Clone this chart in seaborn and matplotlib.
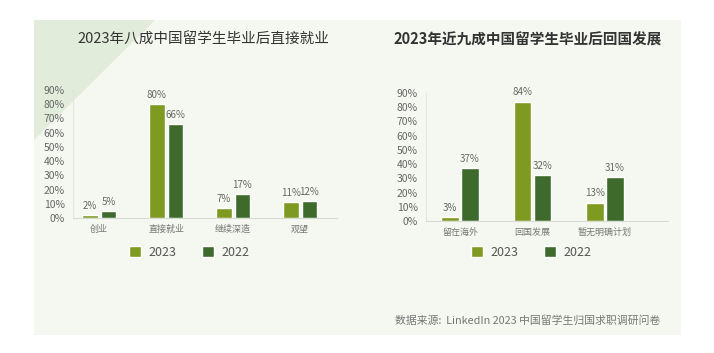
import numpy as np
import pandas as pd
import seaborn as sns
import matplotlib.pyplot as plt
from matplotlib.patches import Rectangle, Polygon

# data
years = ["2023", "2022"]
left_cats = ["创业", "直接就业", "继续深造", "观望"]
left_2023 = [0.02, 0.80, 0.07, 0.11]
left_2022 = [0.05, 0.66, 0.17, 0.12]
right_cats = ["留在海外", "回国发展", "暂无明确计划"]
right_2023 = [0.03, 0.84, 0.13]
right_2022 = [0.37, 0.32, 0.31]
yticks = [0, 0.1, 0.2, 0.3, 0.4, 0.5, 0.6, 0.7, 0.8, 0.9]
ytick_labels = ["0%", "10%", "20%", "30%", "40%", "50%", "60%", "70%", "80%", "90%"]

sns.set_style("white")
plt.rcParams["font.family"] = ["Noto Sans CJK SC", "DejaVu Sans"]

palette = {"2023": "#7e9a20", "2022": "#3e6b2c"}
W, H = 714, 353

fig = plt.figure(figsize=(7.14, 3.53), dpi=100)
fig.patch.set_facecolor("white")


def fx(x):
    return x / W


def fy(y):
    return 1 - y / H


# background panel and corner triangle (below the axes)
fig.patches.append(Rectangle((fx(34), fy(335)), fx(681) - fx(34), fy(20) - fy(335),
                             transform=fig.transFigure, facecolor="#f4f8f0", edgecolor="none", zorder=-2))
fig.patches.append(Polygon([(fx(34), fy(20)), (fx(155), fy(20)), (fx(34), fy(140))],
                           transform=fig.transFigure, facecolor="#e1ecdb", edgecolor="none", zorder=-1))


def make_df(cats, v23, v22):
    return pd.DataFrame({
        "cat": cats * 2,
        "year": ["2023"] * len(cats) + ["2022"] * len(cats),
        "value": list(v23) + list(v22),
    })


def draw(ax, cats, v23, v22, xlim, gap, legend_center):
    df = make_df(cats, v23, v22)
    sns.barplot(data=df, x="cat", y="value", hue="year", hue_order=years,
                palette=palette, width=0.55, gap=gap, ax=ax, saturation=1)
    ax.set_facecolor("none")
    ax.set_ylim(0, 0.9)
    ax.set_xlim(*xlim)
    ax.set_yticks(yticks)
    ax.set_yticklabels(ytick_labels)
    ax.tick_params(axis="y", labelsize=7.5, labelcolor="#666666", length=0, pad=6)
    ax.tick_params(axis="x", labelsize=6.5, labelcolor="#777777", length=0, pad=5)
    ax.set_xlabel("")
    ax.set_ylabel("")
    for s in ["top", "right"]:
        ax.spines[s].set_visible(False)
    ax.spines["left"].set_color("#e2e6df")
    ax.spines["bottom"].set_color("#d6dbd2")
    for cont in ax.containers:
        ax.bar_label(cont, labels=[f"{round(v.get_height() * 100)}%" for v in cont],
                     fontsize=7, color="#666666", padding=3)
    handles, labels = ax.get_legend_handles_labels()
    ax.legend_.remove()
    fig.legend(handles, labels, loc="center", bbox_to_anchor=(fx(legend_center), fy(252)),
               ncol=2, frameon=False, fontsize=9, handlelength=1.0, handleheight=1.0,
               handletextpad=0.6, columnspacing=2.0, labelcolor="#555555")


ax1 = fig.add_axes([fx(73), fy(218), fx(337) - fx(73), fy(90) - fy(218)])
draw(ax1, left_cats, left_2023, left_2022, (-0.39, 3.55), 0.16, 189)

ax2 = fig.add_axes([fx(426), fy(221), fx(668) - fx(426), fy(93) - fy(221)])
draw(ax2, right_cats, right_2023, right_2022, (-0.47, 2.87), 0.12, 531)

fig.text(fx(203), fy(40), "2023年八成中国留学生毕业后直接就业", ha="center", va="center",
         fontsize=10.5, color="#333333")
fig.text(fx(528), fy(40), "2023年近九成中国留学生毕业后回国发展", ha="center", va="center",
         fontsize=10.5, color="#333333", fontweight="bold")
fig.text(fx(660), fy(320), "数据来源:  LinkedIn 2023 中国留学生归国求职调研问卷", ha="right", va="center",
         fontsize=7.8, color="#777777")

fig.savefig("out.png", dpi=100, facecolor=fig.get_facecolor())
